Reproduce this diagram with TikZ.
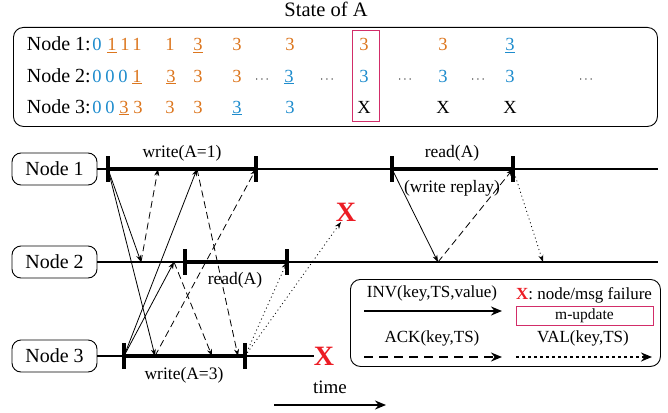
\documentclass[tikz,border=0pt]{standalone}
\usepackage{fontspec}
\setmainfont{Liberation Serif}
\usetikzlibrary{arrows.meta}
\definecolor{vblue}{RGB}{30,140,205}
\definecolor{vorange}{RGB}{220,118,30}
\definecolor{vpink}{RGB}{210,45,105}
\definecolor{vred}{RGB}{236,28,36}
\newcommand{\cb}[1]{\textcolor{vblue}{#1}}
\newcommand{\cbu}[1]{\textcolor{vblue}{\underline{#1}}}
\newcommand{\co}[1]{\textcolor{vorange}{#1}}
\newcommand{\cou}[1]{\textcolor{vorange}{\underline{#1}}}
\newcommand{\dd}{{\fontsize{13}{14}\selectfont$\cdots$}}
\begin{document}
\begin{tikzpicture}[x=1pt,y=-1pt,font=\fontsize{17.5}{21}\selectfont,
  nodebox/.style={draw,rounded corners=9pt,line width=0.9pt,minimum width=85pt,minimum height=32pt,inner sep=0pt,font=\fontsize{20}{24}\selectfont},
  tl/.style={line width=1.3pt},
  iv/.style={line width=4.5pt},
  tickbar/.style={line width=4pt},
  msg/.style={line width=0.8pt,-{Stealth[length=7pt,width=5pt]}},
  invmsg/.style={msg},
  ackmsg/.style={msg,dash pattern=on 7pt off 4pt},
  valmsg/.style={msg,dash pattern=on 1pt off 3pt},
  lbl/.style={anchor=base,inner sep=0pt},
  rowlbl/.style={anchor=base east,inner sep=0pt,font=\fontsize{20}{24}\selectfont},
  dig/.style={anchor=base,inner sep=0pt,font=\fontsize{18.5}{22}\selectfont},
  failx/.style={text=vred,font=\fontsize{28}{30}\selectfont\bfseries,inner sep=0pt},
  legarrow/.style={line width=2.5pt,-{Stealth[length=11pt,width=9pt]}},
  legfont/.style={font=\fontsize{17}{20}\selectfont}
]
\useasboundingbox (0,0) rectangle (668,412);

% ---------- state table ----------
\node[lbl,font=\fontsize{20.5}{24}\selectfont] (title) at (326,17) {State of A};
\node[draw,rounded corners=10pt,line width=0.9pt,minimum width=644pt,minimum height=99pt,anchor=north west,inner sep=0pt] (statebox) at (13,27) {};
\node[draw=vpink,line width=1pt,minimum width=27pt,minimum height=91pt,inner sep=0pt] (hl) at (365.5,76) {};

\node[rowlbl] (row1) at (91,51) {Node 1:};
\node[rowlbl] (row2) at (91,82) {Node 2:};
\node[rowlbl] (row3) at (91,113) {Node 3:};

\foreach \xx/\txt [count=\i] in {97/\cb{0},112/\cou{1},125/\co{1},137/\co{1},170/\co{1},198/\cou{3},237/\co{3},290/\co{3},364/\co{3},443/\co{3},510/\cbu{3}}
  \node[dig] (ra\i) at (\xx,51) {\txt};
\foreach \xx/\txt [count=\i] in {97/\cb{0},110/\cb{0},123/\cb{0},137/\cou{1},171/\cou{3},198/\co{3},237/\co{3},262/\dd,289/\cbu{3},327/\dd,364/\cb{3},405/\dd,443/\cb{3},478/\dd,510/\cb{3},586/\dd}
  \node[dig] (rb\i) at (\xx,82) {\txt};
\foreach \xx/\txt [count=\i] in {97/\cb{0},110/\cb{0},124/\cou{3},138/\co{3},170/\co{3},198/\co{3},237/\cbu{3},290/\cb{3},364/X,443/X,510/X}
  \node[dig] (rc\i) at (\xx,113) {\txt};

% ---------- timelines ----------
\node[nodebox] (n1) at (54.5,169) {Node 1};
\node[nodebox] (n2) at (54.5,262) {Node 2};
\node[nodebox] (n3) at (54.5,356) {Node 3};
\coordinate (n1end) at (658,169);
\coordinate (n2end) at (658,262);
\node[failx] (x3) at (324,356) {X};
\node[failx] (x1) at (346,212) {X};
\draw[tl] (n1.east) -- (n1end);
\draw[tl] (n2.east) -- (n2end);
\draw[tl] (n3.east) -- (x3.west);

% interval endpoints
\coordinate (w1s) at (108,169);
\coordinate (w1e) at (256,169);
\coordinate (r1s) at (392,169);
\coordinate (r1e) at (513,169);
\coordinate (r2s) at (185,262);
\coordinate (r2e) at (287,262);
\coordinate (w3s) at (124,356);
\coordinate (w3e) at (245,356);

\draw[iv] (w1s) -- (w1e);
\draw[iv] (r1s) -- (r1e);
\draw[iv] (r2s) -- (r2e);
\draw[iv] (w3s) -- (w3e);
\foreach \c in {w1s,w1e,r1s,r1e,r2s,r2e,w3s,w3e}
  \draw[tickbar] ([yshift=13pt]\c) -- ([yshift=-13pt]\c);

\node[lbl] (lw1) at (182,157) {write(A=1)};
\node[lbl] (lr1) at (452,157) {read(A)};
\node[lbl] (lrep) at (452,192) {(write replay)};
\node[lbl] (lr2) at (235,284) {read(A)};
\node[lbl] (lw3) at (184,379) {write(A=3)};

% message points
\coordinate (m1) at (141,262);
\coordinate (m2) at (155,356);
\coordinate (m3) at (158,169);
\coordinate (p1) at (197,169);
\coordinate (p2) at (174,262);
\coordinate (q2) at (212,356);
\coordinate (q3) at (238,356);
\coordinate (s1) at (438,262);
\coordinate (s2) at (543,262);
\coordinate (xt) at (341,222);

% write(A=1)
\draw[invmsg] (w1s) -- (m1);
\draw[invmsg] (w1s) -- (m2);
\draw[ackmsg] (m1) -- (m3);
\draw[ackmsg] (m2) -- (w1e);
% write(A=3)
\draw[invmsg] (w3s) -- (p1);
\draw[invmsg] (w3s) -- (p2);
\draw[ackmsg] (p2) -- (q2);
\draw[ackmsg] (p1) -- (q3);
\draw[valmsg] (w3e) -- (r2e);
\draw[valmsg] (w3e) -- (xt);
% read(A) with replay
\draw[invmsg] (r1s) -- (s1);
\draw[ackmsg] (s1) -- (r1e);
\draw[valmsg] (r1e) -- (s2);

% ---------- legend ----------
\node[draw,rounded corners=10pt,line width=0.9pt,minimum width=310pt,minimum height=87pt,anchor=north west,inner sep=0pt] (leg) at (350,279) {};
\node[lbl,legfont] (linv) at (432,297) {INV(key,TS,value)};
\node[lbl,legfont] (lfail) at (584,299) {\textcolor{vred}{\bfseries X}: node/msg failure};
\node[draw=vpink,line width=1pt,minimum width=137pt,minimum height=19pt,inner sep=0pt,font=\fontsize{15.5}{16}\selectfont] (mupd) at (584.5,315.5) {m-update};
\node[lbl,legfont] (lack) at (432,342) {ACK(key,TS)};
\node[lbl,legfont] (lval) at (583,342) {VAL(key,TS)};
\coordinate (la1) at (364,311);
\coordinate (la2) at (502,311);
\coordinate (lb1) at (364,357);
\coordinate (lb2) at (502,357);
\coordinate (lc1) at (516,357);
\coordinate (lc2) at (652,357);
\draw[legarrow] (la1) -- (la2);
\draw[legarrow,dash pattern=on 9pt off 6pt] (lb1) -- (lb2);
\draw[legarrow,dash pattern=on 2.5pt off 3.5pt] (lc1) -- (lc2);

% ---------- time ----------
\node[lbl,font=\fontsize{19}{22}\selectfont] (ltime) at (330,393) {time};
\coordinate (t0) at (274,405);
\coordinate (t1) at (386,405);
\draw[legarrow] (t0) -- (t1);
\end{tikzpicture}
\end{document}
